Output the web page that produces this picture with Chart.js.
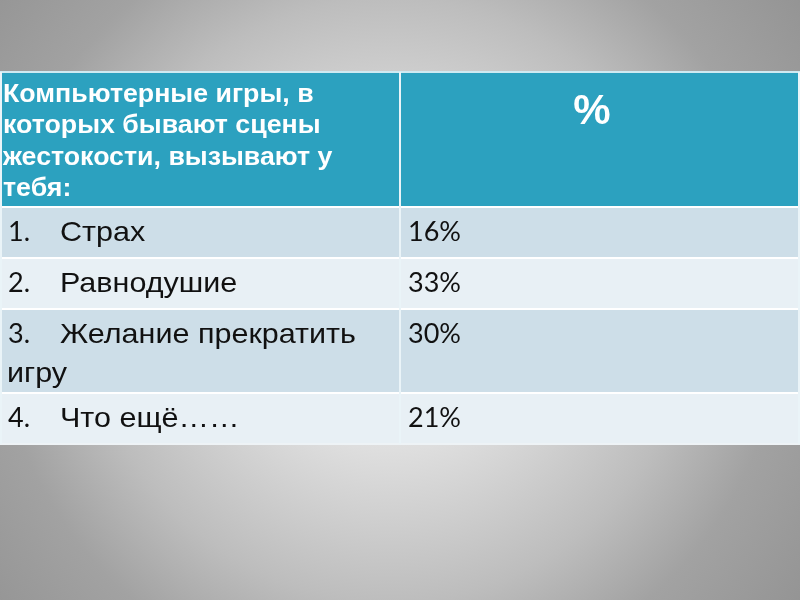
<!DOCTYPE html>
<html><head><meta charset="utf-8">
<script src="https://cdn.jsdelivr.net/npm/chart.js@4"></script>
<style>
html,body{margin:0;padding:0;width:800px;height:600px;overflow:hidden;
background: radial-gradient(circle 520px at 390px 300px, #f2f2f2 0%, #dedede 29%, #bdbdbd 58%, #a2a2a2 76%, #939393 100%);}
#wrap{position:absolute;left:0;top:0;width:800px;height:600px}
</style></head>
<body><div id="wrap"><canvas id="c"></canvas></div>
<script>
// ---- data ----
const headerQuestion = ['Компьютерные игры, в', 'которых бывают сцены', 'жестокости, вызывают у', 'тебя:'];
const headerValue = '%';
const categories = [['Страх'], ['Равнодушие'], ['Желание прекратить', 'игру'], ['Что ещё……']];
const values = [16, 33, 30, 21];

// ---- layout / style ----
const tableTop = 72;
const headerHeight = 135;
const rowHeights = [51, 51, 84, 51];
const headerColor = '#2ca1bf';
const rowColors = ['#cddee8', '#e8f0f5'];

function stretchText(ctx, text, x, y, sx) {
  ctx.save();
  ctx.translate(x, y);
  ctx.scale(sx, 1);
  ctx.fillText(text, 0, 0);
  ctx.restore();
}

const tablePlugin = {
  id: 'table',
  beforeDatasetsDraw(chart) {
    const ctx = chart.ctx, xs = chart.scales.x, ys = chart.scales.y;
    const X = v => xs.getPixelForValue(v), Y = v => ys.getPixelForValue(v);
    const bounds = [tableTop, tableTop + headerHeight];
    rowHeights.forEach(h => bounds.push(bounds[bounds.length - 1] + h));
    ctx.save();
    for (let r = 0; r < bounds.length - 1; r++) {
      const fill = r === 0 ? headerColor : rowColors[(r - 1) % 2];
      for (let c = 0; c < 2; c++) {
        ctx.fillStyle = fill;
        ctx.fillRect(X(c), Y(bounds[r]), X(c + 1) - X(c), Y(bounds[r + 1]) - Y(bounds[r]));
      }
    }
    ctx.lineWidth = 2;
    bounds.forEach((b, i) => {
      ctx.strokeStyle = (i === 0) ? '#cfeaf2' : (i === bounds.length - 1 ? '#eef3f6' : '#ffffff');
      ctx.beginPath(); ctx.moveTo(X(0), Y(b)); ctx.lineTo(X(2), Y(b)); ctx.stroke();
    });
    ctx.strokeStyle = '#eaf4f8';
    [0, 1, 2].forEach(c => {
      const off = c === 0 ? 1 : c === 2 ? -1 : 0;
      ctx.beginPath(); ctx.moveTo(X(c) + off, Y(bounds[0])); ctx.lineTo(X(c) + off, Y(bounds[bounds.length - 1])); ctx.stroke();
    });

    // header text
    ctx.fillStyle = '#ffffff';
    ctx.textBaseline = 'alphabetic';
    ctx.textAlign = 'left';
    ctx.font = 'bold 25px "Liberation Sans", Arial, sans-serif';
    headerQuestion.forEach((line, i) => {
      stretchText(ctx, line, X(0) + 3, Y(bounds[0]) + 30 + i * 31.3, 1.07);
    });
    ctx.textAlign = 'center';
    ctx.font = 'bold 42px "Liberation Sans", Arial, sans-serif';
    ctx.fillText(headerValue, X(1.5) - 8, Y(bounds[0]) + 52);

    // body rows
    ctx.fillStyle = '#111111';
    ctx.textAlign = 'left';
    categories.forEach((lines, i) => {
      const top = Y(bounds[i + 1]);
      const base = top + 34;
      ctx.font = '27px Lato, "Open Sans", sans-serif';
      ctx.fillText((i + 1) + '.', X(0) + 8, base);
      ctx.font = '28px "Liberation Sans", Arial, sans-serif';
      lines.forEach((line, k) => {
        stretchText(ctx, line, k === 0 ? X(0) + 60 : X(0) + 7, base + k * 39, 1.09);
      });
      ctx.font = '27px Lato, "Open Sans", sans-serif';
      ctx.fillText(values[i] + '%', X(1) + 8, base);
    });
    ctx.restore();
  }
};

new Chart(document.getElementById('c'), {
  type: 'scatter',
  data: { datasets: [{ data: [] }] },
  options: {
    responsive: true, maintainAspectRatio: false, animation: false,
    layout: { padding: 0 },
    plugins: { legend: { display: false }, tooltip: { enabled: false } },
    scales: {
      x: { type: 'linear', min: 0, max: 2, display: false },
      y: { type: 'linear', min: 0, max: 600, reverse: true, display: false }
    }
  },
  plugins: [tablePlugin]
});
</script>
</body></html>
